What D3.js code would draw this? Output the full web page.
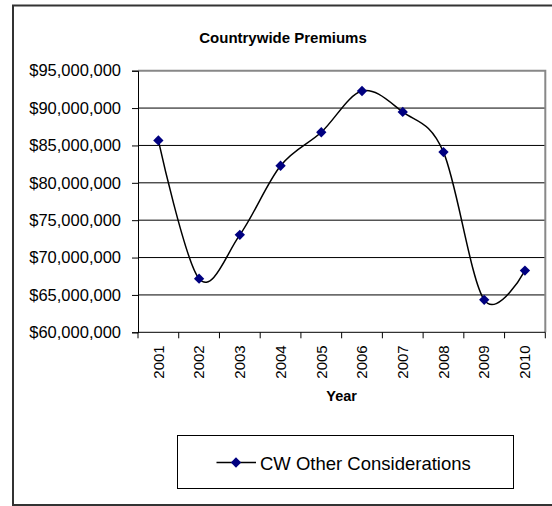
<!DOCTYPE html>
<html>
<head>
<meta charset="utf-8">
<script src="https://cdn.jsdelivr.net/npm/d3@7"></script>
<style>
  body { margin: 0; background: #fff; }
  text { font-family: "Liberation Sans", Arial, sans-serif; fill: #000; }
</style>
</head>
<body>
<script>
// data
const years = ["2001", "2002", "2003", "2004", "2005", "2006", "2007", "2008", "2009", "2010"]
const premiums = [85670000, 67170000, 73040000, 82280000, 86770000, 92280000, 89480000, 84110000, 64340000, 68260000]
const yTicks = [60000000, 65000000, 70000000, 75000000, 80000000, 85000000, 90000000, 95000000]
const seriesName = "CW Other Considerations"

const w = 552
const h = 506
// plot box
const px0 = 138, px1 = 545.3, py0 = 70.7, py1 = 332.3

const svg = d3.select("body").append("svg").attr("width", w).attr("height", h)

// outer chart border (right edge runs off the picture)
svg.append("rect")
    .attr("x", 13).attr("y", 5.5)
    .attr("width", 560).attr("height", 499.5)
    .attr("fill", "#fff")
    .attr("stroke", "#333")
    .attr("stroke-width", 2)

const x = d3.scaleBand().domain(years).range([px0, px1])
const y = d3.scaleLinear().domain([60000000, 95000000]).range([py1, py0])

// grid lines
svg.append("g").selectAll("line")
    .data(yTicks.slice(1, -1))
    .enter().append("line")
    .attr("x1", px0).attr("x2", px1)
    .attr("y1", d => y(d)).attr("y2", d => y(d))
    .attr("stroke", "#000").attr("stroke-width", 1)

// top and right of plot box in gray
svg.append("path")
    .attr("d", `M${px0},${py0}H${px1}V${py1}`)
    .attr("fill", "none").attr("stroke", "#888").attr("stroke-width", 2)

// y axis
const fmt = d => "$" + d3.format(",")(d)
const yAxis = svg.append("g")
    .attr("transform", `translate(${px0},0)`)
    .call(d3.axisLeft(y).tickValues(yTicks).tickFormat(fmt).tickSize(6).tickPadding(11))
yAxis.select(".domain").attr("stroke", "#000")
yAxis.selectAll("text").style("font-size", "16.5px").attr("font-family", null)

// x axis, ticks sit between categories
const xAxisG = svg.append("g").attr("transform", `translate(0,${py1})`)
xAxisG.append("line").attr("x1", px0).attr("x2", px1).attr("stroke", "#000")
xAxisG.selectAll("line.tk")
    .data(d3.range(years.length + 1))
    .enter().append("line")
    .attr("class", "tk")
    .attr("x1", i => px0 + i * x.step()).attr("x2", i => px0 + i * x.step())
    .attr("y1", 0).attr("y2", 6)
    .attr("stroke", "#000")
xAxisG.selectAll("text")
    .data(years)
    .enter().append("text")
    .attr("transform", d => `translate(${x(d) + x.bandwidth() / 2},13) rotate(-90)`)
    .attr("text-anchor", "end")
    .attr("dy", "0.35em")
    .style("font-size", "15px")
    .text(d => d)

// title and axis title
svg.append("text")
    .attr("x", 283).attr("y", 42.5)
    .attr("text-anchor", "middle")
    .style("font-size", "15px").style("font-weight", "bold")
    .text("Countrywide Premiums")

svg.append("text")
    .attr("x", (px0 + px1) / 2).attr("y", 400.5)
    .attr("text-anchor", "middle")
    .style("font-size", "14.5px").style("font-weight", "bold")
    .text("Year")

// smoothed line
const line = d3.line()
    .x((d, i) => x(years[i]) + x.bandwidth() / 2)
    .y(d => y(d))
    .curve(d3.curveCardinal.tension(0))

svg.append("path")
    .datum(premiums)
    .attr("d", line)
    .attr("fill", "none")
    .attr("stroke", "#000")
    .attr("stroke-width", 1.5)

const diamond = d3.symbol().type(d3.symbolDiamond2).size(68)
svg.append("g").selectAll("path")
    .data(premiums)
    .enter().append("path")
    .attr("d", diamond)
    .attr("transform", (d, i) => `translate(${x(years[i]) + x.bandwidth() / 2},${y(d)})`)
    .attr("fill", "#000080")

// legend
const lg = svg.append("g")
lg.append("rect")
    .attr("x", 177.5).attr("y", 435.5)
    .attr("width", 336).attr("height", 53)
    .attr("fill", "#fff").attr("stroke", "#000").attr("stroke-width", 1)
lg.append("line")
    .attr("x1", 216.5).attr("x2", 256)
    .attr("y1", 462.5).attr("y2", 462.5)
    .attr("stroke", "#000").attr("stroke-width", 1.5)
lg.append("path")
    .attr("d", diamond)
    .attr("transform", "translate(236,462.5)")
    .attr("fill", "#000080")
lg.append("text")
    .attr("x", 260).attr("y", 469.5)
    .style("font-size", "18.5px")
    .text(seriesName)
</script>
</body>
</html>
